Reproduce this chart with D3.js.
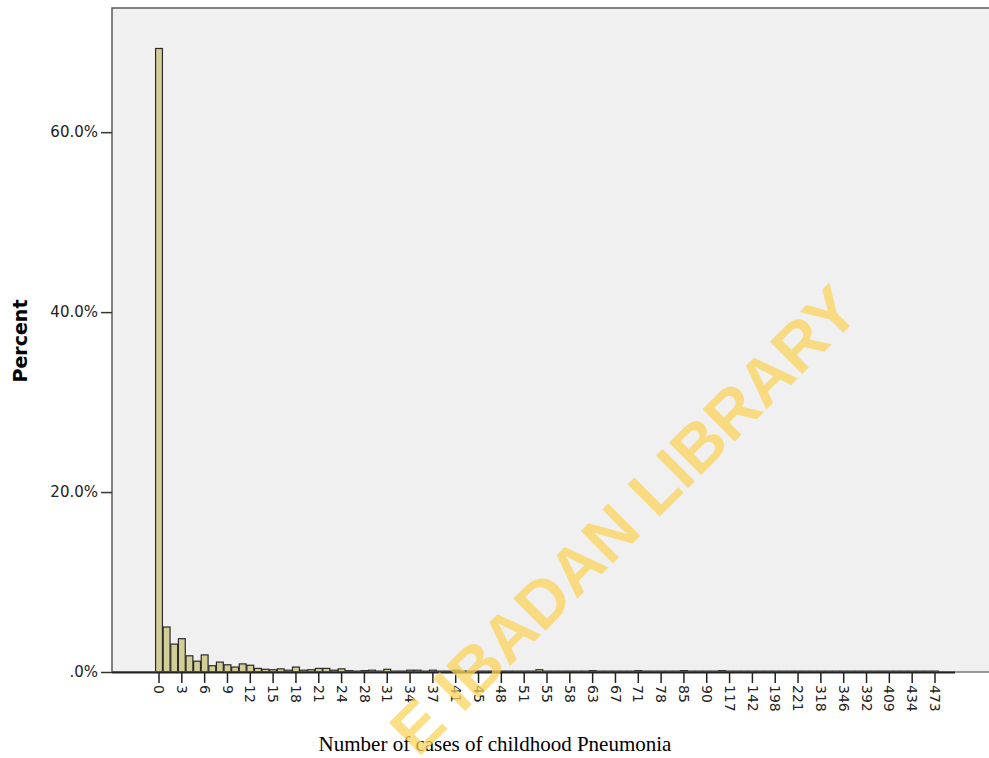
<!DOCTYPE html>
<html>
<head>
<meta charset="utf-8">
<script src="https://cdn.jsdelivr.net/npm/d3@7"></script>
<style>
  body { margin: 0; background: #fff; }
  svg { display: block; }
</style>
</head>
<body>
<svg id="chart" width="989" height="758"></svg>
<script>
// number of cases (distinct observed values) - only every 3rd is labelled
var cases = [0,1,2,3,4,5,6,7,8,9,10,11,12,13,14,15,16,17,18,19,20,21,22,23,24,
  25,26,28, 29,30,31, 32,33,34, 35,36,37, 38,40,41, 42,43,45, 46,47,48,
  49,50,51, 52,54,55, 56,57,58, 60,61,63, 64,65,67, 68,70,71, 72,75,78,
  80,82,85, 87,88,90, 100,110,117, 120,130,142, 150,170,198, 200,210,221,
  250,290,318, 320,330,346, 360,380,392, 400,405,409, 420,430,434, 450,460,473];

// percent of each value
var percents = [69.3,5.0,3.1,3.7,1.8,1.2,1.9,0.7,1.1,0.8,0.55,0.9,0.75,0.4,0.3,0.25,0.35,0.2,0.55,0.2,0.25,0.4,0.4,0.2,0.35,
  0.15,0.1,0.15, 0.2,0.1,0.3, 0.1,0.1,0.2, 0.2,0.1,0.2, 0.1,0.1,0.2, 0.1,0.1,0.1, 0.1,0.1,0.1,
  0.1,0.1,0.1, 0.1,0.25,0.1, 0.1,0.1,0.1, 0.1,0.1,0.15, 0.1,0.1,0.1, 0.1,0.1,0.15, 0.1,0.1,0.1,
  0.1,0.1,0.15, 0.1,0.1,0.1, 0.1,0.15,0.1, 0.1,0.1,0.1, 0.1,0.1,0.1, 0.1,0.1,0.1,
  0.1,0.1,0.1, 0.1,0.1,0.1, 0.1,0.1,0.1, 0.1,0.1,0.1, 0.1,0.1,0.1, 0.1,0.1,0.1];

var yTicks = [0, 20, 40, 60];

var svg = d3.select("#chart");

var plot = { left: 112, top: 8, right: 989, bottom: 672 };
var sans = "'DejaVu Sans', Verdana, sans-serif";

var x = d3.scaleBand()
    .domain(cases.map(String))
    .range([139, 955])
    .paddingInner(0.1)
    .paddingOuter(2.18);

var y = d3.scaleLinear()
    .domain([0, 73.8])
    .range([plot.bottom, plot.top]);

// plot background
svg.append("rect")
    .attr("x", plot.left)
    .attr("y", plot.top)
    .attr("width", plot.right - plot.left)
    .attr("height", plot.bottom - plot.top)
    .style("fill", "#f0f0f0");

// frame (left + top)
svg.append("path")
    .attr("d", "M" + plot.left + "," + plot.bottom + "V" + plot.top + "H" + plot.right)
    .style("fill", "none")
    .style("stroke", "#5a5a5a")
    .style("stroke-width", 1.5);

// bars
svg.append("g")
    .selectAll("rect")
    .data(cases)
    .enter()
    .append("rect")
    .attr("x", function (d) { return x(String(d)); })
    .attr("y", function (d, i) { return y(percents[i]); })
    .attr("width", x.bandwidth())
    .attr("height", function (d, i) { return plot.bottom - y(percents[i]); })
    .style("fill", "#d3ce97")
    .style("stroke", "#2a2a2a")
    .style("stroke-width", 1.2);

// y axis
var yAxis = svg.append("g")
    .attr("transform", "translate(" + plot.left + ",0)")
    .call(d3.axisLeft(y)
        .tickValues(yTicks)
        .tickSize(11)
        .tickPadding(3)
        .tickFormat(function (d) { return d === 0 ? ".0%" : d.toFixed(1) + "%"; }));
yAxis.select(".domain").remove();
yAxis.selectAll("line").style("stroke", "#333").style("stroke-width", 1.5);
yAxis.selectAll("text")
    .style("font-family", sans)
    .style("font-size", "15px")
    .style("fill", "#222");

// x baseline (lighter part to the right)
svg.append("line")
    .attr("x1", plot.left).attr("x2", plot.right)
    .attr("y1", plot.bottom).attr("y2", plot.bottom)
    .style("stroke", "#777")
    .style("stroke-width", 1.5);

// x axis
var xAxis = svg.append("g")
    .attr("transform", "translate(0," + plot.bottom + ")")
    .call(d3.axisBottom(x)
        .tickValues(cases.filter(function (d, i) { return i % 3 === 0; }).map(String))
        .tickSize(11)
        .tickSizeOuter(0));
xAxis.select(".domain")
    .attr("d", "M" + plot.left + ",0.5H955")
    .style("stroke", "#222")
    .style("stroke-width", 2);
xAxis.selectAll("line").style("stroke", "#222").style("stroke-width", 1.5);
xAxis.selectAll("text")
    .attr("transform", "rotate(90)")
    .attr("x", 13)
    .attr("y", 0)
    .attr("dy", "0.35em")
    .style("text-anchor", "start")
    .style("font-family", sans)
    .style("font-size", "14px")
    .style("fill", "#222");

// axis titles
svg.append("text")
    .attr("transform", "translate(27,341) rotate(-90)")
    .style("text-anchor", "middle")
    .style("font-family", sans)
    .style("font-size", "19px")
    .style("font-weight", "bold")
    .text("Percent");

svg.append("text")
    .attr("x", 495)
    .attr("y", 751)
    .style("text-anchor", "middle")
    .style("font-family", "'Liberation Serif', 'Times New Roman', serif")
    .style("font-size", "21px")
    .text("Number of cases of childhood Pneumonia");

// watermark
svg.append("text")
    .attr("transform", "translate(640,536) rotate(-45)")
    .style("text-anchor", "middle")
    .style("font-family", "'Liberation Sans', Arial, sans-serif")
    .style("font-size", "66px")
    .style("font-weight", "bold")
    .style("fill", "#fbd35c")
    .style("fill-opacity", 0.75)
    .text("E IBADAN LIBRARY");
</script>
</body>
</html>
